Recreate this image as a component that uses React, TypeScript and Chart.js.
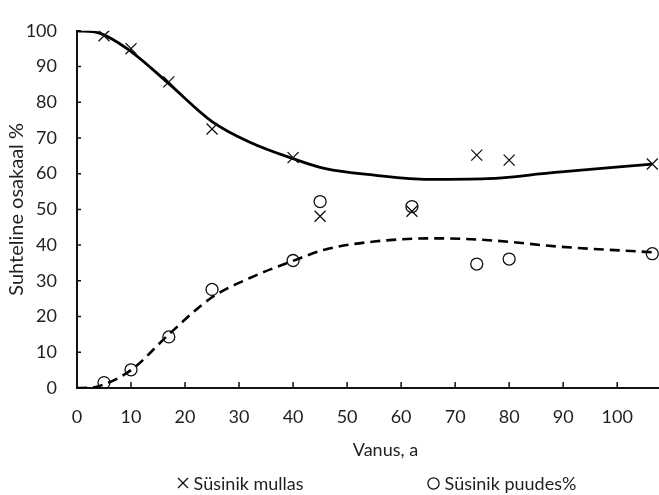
import React, { useEffect, useRef } from "react";
import { Chart, registerables } from "chart.js";

Chart.register(...registerables);

// Measured data (age in years, relative share %)
const soilAges = [5, 10, 17, 25, 40, 45, 62, 74, 80, 106.5];
const soilCarbon = [98.6, 95.0, 85.7, 72.5, 64.5, 48.1, 49.5, 65.2, 63.8, 62.7];
const treeAges = [5, 10, 17, 25, 40, 45, 62, 74, 80, 106.5];
const treeCarbon = [1.5, 5.1, 14.3, 27.6, 35.7, 52.2, 50.8, 34.7, 36.1, 37.6];

// Trend curves
const soilTrendAges = [0, 4, 10, 17, 25, 32, 40, 46, 55, 65, 76, 88, 106.5];
const soilTrend = [100, 99.4, 94.2, 85.2, 74.6, 68.8, 64.2, 61.4, 59.6, 58.4, 58.6, 60.3, 62.7];
const treeTrendAges = [0, 2, 4, 10, 17, 25, 32, 40, 46, 55, 66, 77, 89, 106.5];
const treeTrend = [0, 0.05, 0.5, 5, 15, 25.4, 30.8, 35.6, 38.8, 41.0, 41.9, 41.3, 39.6, 38.0];

// Axis tick labels shown (the visible range ends just past 100)
const xTickLabels = [0, 10, 20, 30, 40, 50, 60, 70, 80, 90, 100];

const seriesLabels = ["Süsinik mullas", "Süsinik puudes%"];
const xTitle = "Vanus, a";
const yTitle = "Suhteline osakaal %";

const FONT = "Lato, 'Open Sans', sans-serif";
const TEXT = "#1f1f1f";
const AXIS = "#111111";

const toPts = (xs: number[], ys: number[]) => xs.map((x, i) => ({ x, y: ys[i] }));

const innerTicks = {
  id: "innerTicks",
  afterDatasetsDraw(chart: any) {
    const { ctx, chartArea } = chart;
    const xs = chart.scales.x;
    const ys = chart.scales.y;
    ctx.save();
    ctx.strokeStyle = AXIS;
    ctx.lineWidth = 1.5;
    ctx.beginPath();
    xs.ticks.forEach((t: any) => {
      if (t.value === 0) return;
      const px = xs.getPixelForValue(t.value);
      ctx.moveTo(px, chartArea.bottom);
      ctx.lineTo(px, chartArea.bottom - 6);
    });
    ys.ticks.forEach((t: any) => {
      if (t.value === 0) return;
      const py = ys.getPixelForValue(t.value);
      ctx.moveTo(chartArea.left, py);
      ctx.lineTo(chartArea.left + 4, py);
    });
    ctx.stroke();
    ctx.restore();
  },
};

function CrossIcon() {
  return (
    <svg width="12" height="12" viewBox="0 0 12 12" style={{ display: "block" }}>
      <line x1="1" y1="1" x2="11" y2="11" stroke={AXIS} strokeWidth="1.3" />
      <line x1="11" y1="1" x2="1" y2="11" stroke={AXIS} strokeWidth="1.3" />
    </svg>
  );
}

function CircleIcon() {
  return (
    <svg width="13" height="13" viewBox="0 0 13 13" style={{ display: "block" }}>
      <circle cx="6.5" cy="6.5" r="5.6" fill="none" stroke={AXIS} strokeWidth="1.3" />
    </svg>
  );
}

export default function App() {
  const canvasRef = useRef<HTMLCanvasElement | null>(null);

  useEffect(() => {
    if (!canvasRef.current) return;
    const chart = new Chart(canvasRef.current, {
      type: "scatter",
      data: {
        datasets: [
          {
            type: "scatter",
            label: seriesLabels[0],
            data: toPts(soilAges, soilCarbon),
            pointStyle: "crossRot",
            pointRadius: 7.8,
            pointBorderWidth: 1.3,
            borderColor: AXIS,
            backgroundColor: "transparent",
          },
          {
            type: "scatter",
            label: seriesLabels[1],
            data: toPts(treeAges, treeCarbon),
            pointStyle: "circle",
            pointRadius: 6,
            pointBorderWidth: 1.3,
            borderColor: AXIS,
            backgroundColor: "transparent",
          },
          {
            type: "line",
            label: "soil trend",
            data: toPts(soilTrendAges, soilTrend),
            borderColor: "#000",
            borderWidth: 2.8,
            pointRadius: 0,
            fill: false,
            cubicInterpolationMode: "monotone",
          },
          {
            type: "line",
            label: "tree trend",
            data: toPts(treeTrendAges, treeTrend),
            borderColor: "#000",
            borderWidth: 2.6,
            borderDash: [10, 6],
            pointRadius: 0,
            fill: false,
            cubicInterpolationMode: "monotone",
          },
        ],
      } as any,
      options: {
        animation: false,
        responsive: false,
        devicePixelRatio: 1,
        layout: { padding: { top: 21, right: 0, left: 0, bottom: 0 } },
        plugins: {
          legend: { display: false },
          tooltip: { enabled: false },
        },
        scales: {
          x: {
            type: "linear",
            min: 0,
            max: 114.2,
            grid: { display: false, drawTicks: false },
            border: { display: true, color: AXIS, width: 2 },
            ticks: {
              stepSize: 10,
              includeBounds: false,
              padding: 18,
              color: TEXT,
              font: { family: FONT, size: 18 },
              maxRotation: 0,
              callback: (v: any) => (xTickLabels.includes(v) ? String(v) : ""),
            },
            title: {
              display: true,
              text: xTitle,
              color: TEXT,
              font: { family: FONT, size: 18 },
              padding: { top: 0, bottom: 34 },
            },
            afterFit: (s: any) => {
              s.height = 107;
            },
          },
          y: {
            type: "linear",
            min: 0,
            max: 100,
            grid: { display: false, drawTicks: false },
            border: { display: true, color: AXIS, width: 2 },
            ticks: {
              stepSize: 10,
              padding: 20,
              color: TEXT,
              font: { family: FONT, size: 18 },
            },
            title: {
              display: true,
              text: yTitle,
              color: TEXT,
              font: { family: FONT, size: 20 },
              padding: { top: 5, bottom: 0 },
            },
            afterFit: (s: any) => {
              s.width = 77;
            },
          },
        },
      } as any,
      plugins: [innerTicks],
    });
    return () => chart.destroy();
  }, []);

  return (
    <div
      style={{
        position: "fixed",
        left: 0,
        top: 0,
        width: 659,
        height: 495,
        overflow: "hidden",
        background: "#fff",
      }}
    >
      <canvas
        ref={canvasRef}
        width={703}
        height={495}
        style={{ position: "absolute", left: 0, top: 0, width: 703, height: 495 }}
      />
      <div
        style={{
          position: "absolute",
          left: 0,
          top: 472,
          width: 753,
          display: "flex",
          justifyContent: "center",
          gap: 123,
          fontFamily: FONT,
          fontSize: 18,
          lineHeight: "22px",
          color: TEXT,
          whiteSpace: "nowrap",
        }}
      >
        <div style={{ display: "flex", alignItems: "center", gap: 5 }}>
          <CrossIcon />
          <span>{seriesLabels[0]}</span>
        </div>
        <div style={{ display: "flex", alignItems: "center", gap: 5 }}>
          <CircleIcon />
          <span>{seriesLabels[1]}</span>
        </div>
      </div>
    </div>
  );
}
